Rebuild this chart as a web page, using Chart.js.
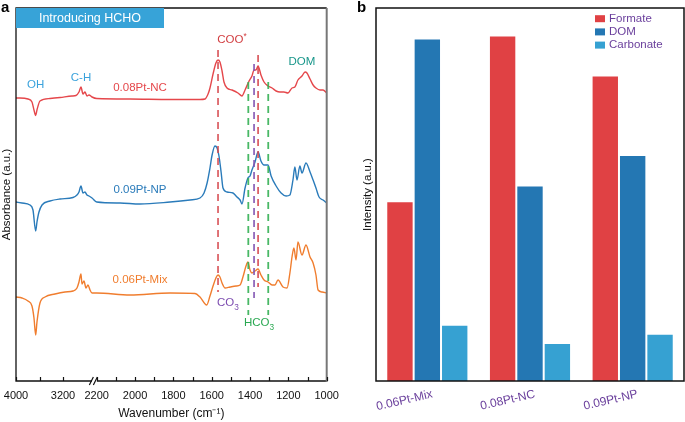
<!DOCTYPE html>
<html>
<head>
<meta charset="utf-8">
<script src="https://cdn.jsdelivr.net/npm/chart.js@4.4.1/dist/chart.umd.min.js"></script>
<style>
  body { margin: 0; background: #fff; width: 685px; height: 422px; position: relative; overflow: hidden;
         font-family: "Liberation Sans", Arial, sans-serif; }
  canvas { position: absolute; top: 0; }
  #chart-a { left: 0; }
  #chart-b { left: 340px; }
  .tag { position: absolute; top: -2px; font-weight: bold; font-size: 15px; color: #000; }
</style>
</head>
<body>
<canvas id="chart-a" width="340" height="422"></canvas>
<canvas id="chart-b" width="345" height="422"></canvas>
<div class="tag" style="left:1px">a</div>
<div class="tag" style="left:357px">b</div>
<script>
// ---- panel a: in situ DRIFTS spectra (offset, a.u.) ----
const waveNC = [4000, 3932, 3796, 3728, 3694, 3665, 3643, 3592, 3421, 3251, 3047, 2979, 2928, 2894, 2860, 2826, 2792, 2758, 2706,
  2200, 2026, 1817, 1661, 1635, 1619, 1609, 1593, 1578, 1567, 1557, 1546, 1536, 1520, 1494, 1463, 1442, 1426, 1405, 1390,
  1379, 1369, 1358, 1343, 1327, 1306, 1285, 1264, 1244, 1223, 1202, 1181, 1166, 1150, 1129, 1113, 1103, 1087, 1071, 1056,
  1035, 1019, 1000];
const absNC = [283, 283, 282, 279, 271, 265.5, 271, 280, 282.5, 283.5, 285, 285.5, 289, 294, 287, 289, 285, 286, 284,
  282.5, 282, 281.5, 281.5, 282, 287, 293, 307, 318, 321, 319, 310, 299, 293, 291, 288, 285, 291, 300, 305,
  311, 311, 315, 306, 299, 295, 293, 290, 289, 289, 288, 293, 294, 301, 305, 309, 308, 302, 296, 293,
  291, 291, 288];

const waveNP = [4000, 3898, 3762, 3711, 3665, 3643, 3609, 3557, 3421, 3251, 3030, 2962, 2928, 2894, 2860, 2826, 2792, 2758, 2706,
  2200, 2078, 1974, 1817, 1713, 1661, 1640, 1624, 1609, 1598, 1583, 1572, 1562, 1551, 1541, 1520, 1489, 1468, 1452, 1442,
  1426, 1411, 1400, 1390, 1374, 1358, 1343, 1327, 1306, 1290, 1264, 1238, 1212, 1192, 1176, 1166, 1155, 1140, 1129, 1108,
  1087, 1071, 1056, 1040, 1019, 1000];
const absNP = [179, 178, 176, 171, 150, 159, 169, 176, 180, 182, 183.5, 186, 189, 195, 188, 189, 186, 185, 183,
  179, 178, 177, 179, 181, 183, 188, 198, 213, 226, 235, 233, 225, 209, 193, 189, 188, 184, 181, 177,
  193, 203, 205, 211, 219, 229, 220, 216, 216, 205, 195, 188, 185, 186, 201, 214, 201, 215, 208, 218,
  209, 201, 193, 184, 181, 178];

const waveMix = [4000, 3898, 3796, 3728, 3694, 3665, 3643, 3592, 3506, 3336, 3166, 3030, 2962, 2928, 2894, 2877, 2843, 2809, 2775,
  2740, 2706, 2200, 2026, 1817, 1687, 1661, 1626, 1609, 1593, 1578, 1567, 1557, 1546, 1530, 1504, 1473, 1452, 1437, 1421,
  1411, 1400, 1390, 1374, 1358, 1343, 1327, 1306, 1285, 1270, 1254, 1228, 1207, 1192, 1181, 1171, 1160, 1150, 1129, 1108,
  1087, 1071, 1056, 1045, 1024, 1000];
const absMix = [84, 83, 80, 75, 63, 46, 59, 78, 84, 87, 89, 90, 93, 99, 107, 97, 100, 93, 96,
  91, 88, 88, 86, 88, 87.5, 84, 76, 85, 95, 103, 106, 104, 98, 93, 94, 95, 96, 104, 115,
  119, 111, 108, 110, 112, 106, 101, 99, 96, 96, 101, 94, 93, 108, 124, 133, 121, 139, 126, 136,
  124, 118, 106, 91, 89, 88];

// dashed guide lines (COO*, COO*, CO3, HCO3, HCO3)
const guideWaves = [1567, 1358, 1379, 1409, 1305];
const guideTop = [331, 326, 317, 299, 299];
const guideBottom = [89, 94, 83, 66, 66];
const guideColors = ['rgba(214,72,78,0.85)', 'rgba(214,72,78,0.85)', 'rgba(132,88,180,0.9)', 'rgba(52,176,84,0.9)', 'rgba(52,176,84,0.9)'];

const tickWaves = [4000, 3600, 3200, 2200, 2100, 2000, 1900, 1800, 1700, 1600, 1500, 1400, 1300, 1200, 1100, 1000];
const majorWaves = [4000, 3200, 2200, 2000, 1800, 1600, 1400, 1200, 1000];

// ---- panel b: band intensities ----
const samples = ['0.06Pt-Mix', '0.08Pt-NC', '0.09Pt-NP'];
const formate = [0.482, 0.926, 0.819];
const dom = [0.918, 0.524, 0.606];
const carbonate = [0.151, 0.102, 0.127];

const FONT = '"Liberation Sans", Arial, sans-serif';

// broken axis: 4000-2700 squeezed, cut, then 2200-1000
function brk(w) {
  if (w > 2450) return (4000 - w) * 47 / 800;
  return 80.7 + (2200 - w) * 230 / 1200;
}
const toPts = (ws, ys) => ws.map((w, i) => ({ x: brk(w), y: ys[i] }));

function drawText(ctx, text, extra, x, y, color, size, sup) {
  ctx.save();
  ctx.fillStyle = color;
  ctx.textAlign = 'left';
  ctx.textBaseline = 'middle';
  ctx.font = size + 'px ' + FONT;
  const w = ctx.measureText(text).width;
  ctx.font = (size * 0.72) + 'px ' + FONT;
  const we = extra ? ctx.measureText(extra).width : 0;
  const x0 = x - (w + we) / 2;
  ctx.font = size + 'px ' + FONT;
  ctx.fillText(text, x0, y);
  if (extra) {
    ctx.font = (size * 0.72) + 'px ' + FONT;
    ctx.fillText(extra, x0 + w, sup ? y - size * 0.3 : y + size * 0.38);
  }
  ctx.restore();
}

const specDecor = {
  id: 'specDecor',
  afterDraw(chart) {
    const { ctx, chartArea: { left, right, top, bottom }, scales: { x, y } } = chart;
    ctx.save();
    // frame
    ctx.strokeStyle = '#111';
    ctx.lineWidth = 1.3;
    ctx.beginPath();
    ctx.moveTo(right, top); ctx.lineTo(left, top); ctx.lineTo(left, bottom); ctx.lineTo(right, bottom);
    ctx.stroke();
    ctx.strokeStyle = '#777';
    ctx.lineWidth = 2;
    ctx.beginPath(); ctx.moveTo(right, top); ctx.lineTo(right, bottom + 1); ctx.stroke();
    // inward ticks
    ctx.strokeStyle = '#111';
    ctx.lineWidth = 1.2;
    x.ticks.forEach(t => {
      const px = Math.round(x.getPixelForValue(t.value)) + 0.5;
      ctx.beginPath(); ctx.moveTo(px, bottom); ctx.lineTo(px, bottom - 4); ctx.stroke();
    });
    // axis break
    const bx = (x.getPixelForValue(brk(2706)) + x.getPixelForValue(brk(2200))) / 2;
    ctx.fillStyle = '#fff';
    ctx.fillRect(bx - 2.5, bottom - 2, 5, 4);
    ctx.beginPath();
    ctx.moveTo(bx - 5, bottom + 4); ctx.lineTo(bx - 1, bottom - 4);
    ctx.moveTo(bx - 1, bottom + 4); ctx.lineTo(bx + 3, bottom - 4);
    ctx.stroke();
    // banner
    ctx.fillStyle = '#37a3d8';
    ctx.fillRect(left, top, 148, 20);
    ctx.restore();
    drawText(ctx, 'Introducing HCHO', '', left + 74, top + 10.5, '#fff', 12.5);

    const lab = (t, e, w, v, c, sup) => drawText(ctx, t, e, x.getPixelForValue(brk(w)), y.getPixelForValue(v), c, 11.5, sup);
    lab('OH', '', 3665, 296, '#3aa2dc');
    lab('C-H', '', 2894, 303, '#3aa2dc');
    lab('0.08Pt-NC', '', 1974, 293, '#e5474b');
    lab('0.09Pt-NP', '', 1974, 191, '#2a7bba');
    lab('0.06Pt-Mix', '', 1974, 101, '#f07d2e');
    lab('COO', '*', 1494, 341, '#d23d40', true);
    lab('DOM', '', 1129, 319, '#18968a');
    lab('CO', '3', 1515, 78, '#7d4db0');
    lab('HCO', '3', 1353, 58, '#2aa852');
  }
};

const guideSets = guideWaves.map((w, i) => ({
  data: [{ x: brk(w), y: guideTop[i] }, { x: brk(w), y: guideBottom[i] }],
  borderColor: guideColors[i],
  borderWidth: 1.8,
  borderDash: [7, 5],
  pointRadius: 0,
  order: 0
}));

const specLine = (pts, color) => ({
  data: pts,
  borderColor: color,
  borderWidth: 1.4,
  pointRadius: 0,
  cubicInterpolationMode: 'monotone',
  order: 1
});

new Chart(document.getElementById('chart-a'), {
  type: 'line',
  data: {
    datasets: [
      ...guideSets,
      specLine(toPts(waveNC, absNC), '#e5474b'),
      specLine(toPts(waveNP, absNP), '#2a7bba'),
      specLine(toPts(waveMix, absMix), '#f07d2e')
    ]
  },
  options: {
    responsive: false,
    animation: false,
    layout: { padding: { top: 8, right: 13.3, bottom: 0, left: 0 } },
    plugins: { legend: { display: false }, tooltip: { enabled: false } },
    scales: {
      x: {
        type: 'linear',
        min: 0,
        max: brk(1000),
        grid: { display: false, drawTicks: false },
        border: { display: false },
        afterBuildTicks: s => { s.ticks = tickWaves.map(w => ({ value: brk(w) })); },
        afterFit: s => { s.height = 41; s.paddingLeft = 0; s.paddingRight = 0; },
        ticks: {
          autoSkip: false,
          maxRotation: 0,
          padding: 8,
          color: '#111',
          font: { size: 11, family: FONT },
          callback: (v, i) => majorWaves.includes(tickWaves[i]) ? String(tickWaves[i]) : ''
        },
        title: {
          display: true,
          text: 'Wavenumber (cm\u207B\u00B9)',
          color: '#111',
          font: { size: 12, family: FONT },
          padding: { top: 0, bottom: 1 }
        }
      },
      y: {
        min: 0,
        max: 373,
        grid: { display: false },
        border: { display: false },
        ticks: { display: false },
        afterFit: s => { s.width = 16; },
        title: {
          display: true,
          text: 'Absorbance (a.u.)',
          color: '#111',
          font: { size: 11.5, family: FONT },
          padding: { top: 0, bottom: 0 }
        }
      }
    }
  },
  plugins: [specDecor]
});

// ---- panel b ----
const barDecor = {
  id: 'barDecor',
  afterDraw(chart) {
    const { ctx, chartArea: { left, right, top, bottom } } = chart;
    ctx.save();
    ctx.strokeStyle = '#111';
    ctx.lineWidth = 1.5;
    ctx.strokeRect(left, top, right - left, bottom - top);
    // legend from the datasets
    ctx.font = '11.5px ' + FONT;
    ctx.textBaseline = 'middle';
    chart.data.datasets.forEach((ds, i) => {
      const yy = top + 10.7 + i * 13.2;
      ctx.fillStyle = ds.backgroundColor;
      ctx.fillRect(right - 89, yy - 3.5, 10, 7);
      ctx.fillStyle = '#6a3f9c';
      ctx.fillText(ds.label, right - 75, yy);
    });
    ctx.restore();
  }
};

new Chart(document.getElementById('chart-b'), {
  type: 'bar',
  data: {
    labels: samples,
    datasets: [
      { label: 'Formate', data: formate, backgroundColor: '#e04144' },
      { label: 'DOM', data: dom, backgroundColor: '#2477b3' },
      { label: 'Carbonate', data: carbonate, backgroundColor: '#36a1d2' }
    ].map(d => Object.assign(d, {
      borderColor: 'rgba(255,255,255,0.55)',
      borderWidth: 1,
      borderSkipped: 'bottom',
      categoryPercentage: 0.8,
      barPercentage: 1.0
    }))
  },
  options: {
    responsive: false,
    animation: false,
    layout: { padding: { top: 8, right: 1, bottom: 0, left: 0 } },
    plugins: { legend: { display: false }, tooltip: { enabled: false } },
    scales: {
      x: {
        grid: { display: false, drawTicks: false },
        border: { display: false },
        afterFit: s => { s.height = 41; },
        ticks: {
          minRotation: 13,
          maxRotation: 13,
          padding: 6,
          labelOffset: 5,
          color: '#6a3f9c',
          font: { size: 12, family: FONT }
        }
      },
      y: {
        min: 0,
        max: 1,
        grid: { display: false },
        border: { display: false },
        ticks: { display: false },
        afterFit: s => { s.width = 36; },
        title: {
          display: true,
          text: 'Intensity (a.u.)',
          color: '#111',
          font: { size: 11.5, family: FONT },
          padding: { top: 21, bottom: 0 }
        }
      }
    }
  },
  plugins: [barDecor]
});
</script>
</body>
</html>
